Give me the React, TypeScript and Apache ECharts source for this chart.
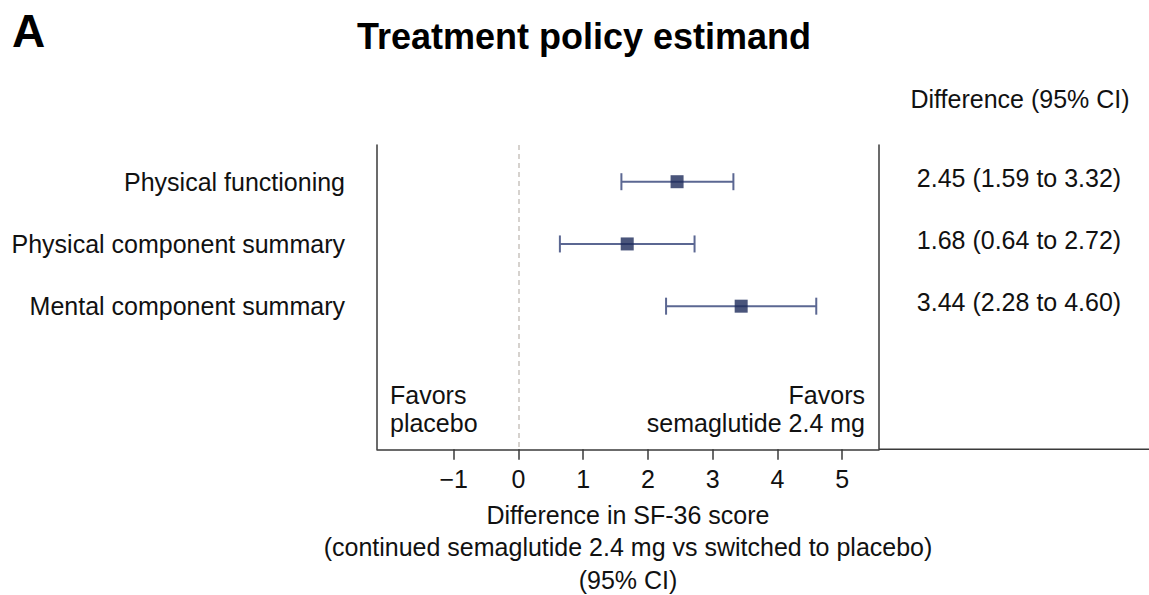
import React, { useEffect, useRef } from "react";
import * as echarts from "echarts";

// Outcomes shown as rows of the forest plot (top to bottom)
const rowNames = [
  "Physical functioning",
  "Physical component summary",
  "Mental component summary",
];
const rowPositions = [1, 2, 3];
// Estimated treatment differences and their 95% confidence limits
const estimates = [2.45, 1.68, 3.44];
const lowerCI = [1.59, 0.64, 2.28];
const upperCI = [3.32, 2.72, 4.6];
// Tick values on the difference axis
const xTicks = [-1, 0, 1, 2, 3, 4, 5];

const FONT = "'Liberation Sans', Arial, Helvetica, sans-serif";
const TEXT = "#111111";
const AXIS = "#3a3a3a";
const MARKER = "#1d2a5a";
const WHISKER = "#5b6792";

// Row range of the plotting area; the right-hand value column sits a touch higher
const Y_MIN = 0.41;
const Y_MAX = 5.3;
const RIGHT_SHIFT = 0.064;

const fmt = (v: number) => v.toFixed(2);
const minusLabel = (v: number) => (v < 0 ? "\u2212" + Math.abs(v) : String(v));

export default function App() {
  const ref = useRef<HTMLDivElement>(null);

  useEffect(() => {
    document.body.style.margin = "0";
    if (!ref.current) return;
    const chart = echarts.init(ref.current, undefined, { renderer: "svg" });

    const ciData = rowPositions.map((r, i) => [lowerCI[i], upperCI[i], r]);
    const pointData = rowPositions.map((r, i) => [estimates[i], r]);

    const option: any = {
      animation: false,
      backgroundColor: "#ffffff",
      textStyle: { fontFamily: FONT },
      grid: {
        left: 377,
        top: 145,
        width: 502,
        height: 304.3,
        containLabel: false,
        outerBoundsMode: "none",
      },
      xAxis: {
        type: "value",
        min: -2.185,
        max: 5.569,
        axisLine: { show: true, onZero: false, lineStyle: { color: AXIS, width: 1.5 } },
        axisTick: {
          show: true,
          customValues: xTicks,
          length: 10.5,
          lineStyle: { color: AXIS, width: 1.5 },
        },
        axisLabel: {
          customValues: xTicks,
          formatter: minusLabel,
          fontSize: 25,
          color: TEXT,
          fontFamily: FONT,
          margin: 17,
        },
        splitLine: { show: false },
        name:
          "Difference in SF-36 score\n(continued semaglutide 2.4 mg vs switched to placebo)\n(95% CI)",
        nameLocation: "middle",
        nameGap: 49,
        nameTextStyle: {
          fontSize: 25,
          color: TEXT,
          fontFamily: FONT,
          lineHeight: 32.5,
        },
      },
      yAxis: [
        {
          type: "value",
          inverse: true,
          min: Y_MIN,
          max: Y_MAX,
          position: "left",
          axisLine: { show: true, onZero: false, lineStyle: { color: AXIS, width: 1.5 } },
          axisTick: { show: false },
          splitLine: { show: false },
          axisLabel: {
            customValues: rowPositions,
            formatter: (v: number) => rowNames[rowPositions.indexOf(v)] ?? "",
            fontSize: 25,
            color: TEXT,
            fontFamily: FONT,
            margin: 32,
          },
        },
        {
          type: "value",
          inverse: true,
          min: Y_MIN + RIGHT_SHIFT,
          max: Y_MAX + RIGHT_SHIFT,
          position: "right",
          axisLine: { show: true, onZero: false, lineStyle: { color: AXIS, width: 1.5 } },
          axisTick: { show: false },
          splitLine: { show: false },
          axisLabel: {
            customValues: rowPositions,
            formatter: (v: number) => {
              const i = rowPositions.indexOf(v);
              if (i < 0) return "";
              return `${fmt(estimates[i])} (${fmt(lowerCI[i])} to ${fmt(upperCI[i])})`;
            },
            align: "center",
            fontSize: 25,
            color: TEXT,
            fontFamily: FONT,
            margin: 140,
          },
        },
      ],
      series: [
        {
          type: "custom",
          name: "95% CI",
          yAxisIndex: 0,
          encode: { x: [0, 1], y: 2 },
          data: ciData,
          z: 2,
          renderItem: (_params: any, api: any) => {
            const lo = api.coord([api.value(0), api.value(2)]);
            const hi = api.coord([api.value(1), api.value(2)]);
            const cap = 8.5;
            const style = { stroke: WHISKER, lineWidth: 2 };
            return {
              type: "group",
              children: [
                { type: "line", shape: { x1: lo[0], y1: lo[1], x2: hi[0], y2: hi[1] }, style },
                { type: "line", shape: { x1: lo[0], y1: lo[1] - cap, x2: lo[0], y2: lo[1] + cap }, style },
                { type: "line", shape: { x1: hi[0], y1: hi[1] - cap, x2: hi[0], y2: hi[1] + cap }, style },
              ],
            };
          },
        },
        {
          type: "scatter",
          name: "Difference",
          yAxisIndex: 0,
          data: pointData,
          symbol: "rect",
          symbolSize: 13,
          itemStyle: { color: MARKER },
          z: 3,
          markLine: {
            silent: true,
            symbol: "none",
            label: { show: false },
            lineStyle: { color: "#c9c3bf", type: [5, 4], width: 1.5 },
            data: [{ xAxis: 0 }],
          },
        },
      ],
      graphic: [
        {
          type: "text",
          left: 12,
          top: 8,
          style: { text: "A", font: `bold 46px ${FONT}`, fill: "#000" },
        },
        {
          type: "text",
          x: 584,
          y: 36,
          style: {
            text: "Treatment policy estimand",
            font: `bold 36px ${FONT}`,
            fill: "#000",
            align: "center",
            verticalAlign: "middle",
            textAlign: "center",
            textVerticalAlign: "middle",
          },
        },
        {
          type: "text",
          x: 1020,
          y: 98.5,
          style: {
            text: "Difference (95% CI)",
            font: `25px ${FONT}`,
            fill: TEXT,
            align: "center",
            verticalAlign: "middle",
            textAlign: "center",
            textVerticalAlign: "middle",
          },
        },
        {
          type: "text",
          x: 390,
          y: 409,
          style: {
            text: "Favors\nplacebo",
            font: `25px ${FONT}`,
            lineHeight: 28,
            fill: TEXT,
            align: "left",
            verticalAlign: "middle",
            textAlign: "left",
            textVerticalAlign: "middle",
          },
        },
        {
          type: "text",
          x: 865,
          y: 409,
          style: {
            text: "Favors\nsemaglutide 2.4 mg",
            font: `25px ${FONT}`,
            lineHeight: 28,
            fill: TEXT,
            align: "right",
            verticalAlign: "middle",
            textAlign: "right",
            textVerticalAlign: "middle",
          },
        },
        {
          type: "line",
          shape: { x1: 879, y1: 449.3, x2: 1149, y2: 449.3 },
          style: { stroke: AXIS, lineWidth: 1.5 },
        },
      ],
    };

    chart.setOption(option);
    return () => chart.dispose();
  }, []);

  return <div ref={ref} style={{ width: 1149, height: 595 }} />;
}
